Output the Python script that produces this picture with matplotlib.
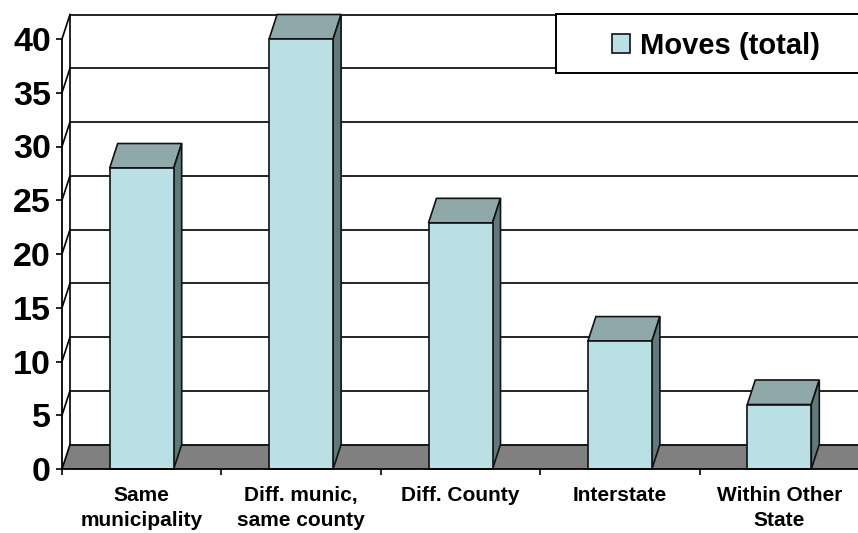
import numpy as np
import matplotlib
matplotlib.use("Agg")
import matplotlib.pyplot as plt
from matplotlib.patches import Polygon, Rectangle

categories = ["Same\nmunicipality", "Diff. munic,\nsame county", "Diff. County", "Interstate", "Within Other\nState"]
moves = [28.0, 40.0, 22.9, 11.9, 6.0]
y_ticks = [0, 5, 10, 15, 20, 25, 30, 35, 40]
series_name = "Moves (total)"

W, H = 858, 533
plt.rcParams['font.family'] = ['Liberation Sans', 'DejaVu Sans']

fig = plt.figure(figsize=(W / 100, H / 100), dpi=100)
# axes box in pixels: x 62..859, y 39..469 from the top
ax = fig.add_axes([62 / W, (H - 469) / H, 797 / W, 430 / H])
ax.set_xlim(0, 5)
ax.set_ylim(0, 40)

# fake 3d depth, in data units
dx = 8 / (797 / 5)
dy = 24.5 / (430 / 40)
bar_w = 64 / (797 / 5)
xmax = 5

# floor
ax.add_patch(Polygon([(0, 0), (dx, dy), (xmax, dy), (xmax, 0)], closed=True,
                     facecolor="#808080", edgecolor="none", zorder=1, clip_on=False))

# back wall grid and side wall diagonals
for t in y_ticks:
    ax.plot([dx, xmax], [t + dy, t + dy], color="black", lw=1.2, zorder=2, clip_on=False)
    ax.plot([0, dx], [t, t + dy], color="black", lw=1.2, zorder=2, clip_on=False)
ax.plot([dx, dx], [dy, 40 + dy], color="black", lw=1.2, zorder=2, clip_on=False)

# bars
for i, v in enumerate(moves):
    x0 = i + 0.5 - bar_w / 2
    x1 = x0 + bar_w
    ax.add_patch(Polygon([(x0, v), (x0 + dx, v + dy), (x1 + dx, v + dy), (x1, v)], closed=True,
                         facecolor="#8fa9ab", edgecolor="#111111", lw=1.2, zorder=3, clip_on=False))
    ax.add_patch(Polygon([(x1, 0), (x1 + dx, dy), (x1 + dx, v + dy), (x1, v)], closed=True,
                         facecolor="#5f7a7c", edgecolor="#111111", lw=1.2, zorder=3, clip_on=False))
bars = ax.bar(np.arange(5) + 0.5, moves, width=bar_w, color="#b9e0e4", edgecolor="#111111",
              lw=1.2, zorder=4, label=series_name, clip_on=False)

for s in ["top", "right"]:
    ax.spines[s].set_visible(False)
for s in ["left", "bottom"]:
    ax.spines[s].set_linewidth(1.3)
    ax.spines[s].set_zorder(5)

ax.set_yticks(y_ticks)
ax.set_yticklabels([str(t) for t in y_ticks], fontsize=24.5, fontweight="bold")
ax.tick_params(axis="y", length=4.5, width=1.2, pad=3.5)

# ticks sit between the categories, labels in the middle
ax.set_xticks(np.arange(6))
ax.set_xticklabels([])
ax.set_xticks(np.arange(5) + 0.5, minor=True)
ax.set_xticklabels(categories, minor=True, fontsize=15, fontweight="bold", linespacing=1.42, va="top")
ax.tick_params(axis="x", which="major", length=4.5, width=1.2)
ax.tick_params(axis="x", which="minor", length=0, pad=12)

# legend box runs off the right edge
box = Rectangle((556 / W, (H - 73) / H), 310 / W, 59 / H, transform=fig.transFigure,
                facecolor="white", edgecolor="black", lw=1.4, zorder=6, clip_on=False)
ax.add_patch(box)
leg = ax.legend(handles=[bars], frameon=False, loc="center", fontsize=21,
                bbox_to_anchor=(716 / W, (H - 45.5) / H), bbox_transform=fig.transFigure,
                handlelength=0.62, handleheight=0.62, handletextpad=0.34, borderpad=0)
leg.set_zorder(7)
for t in leg.get_texts():
    t.set_fontweight("bold")

fig.savefig("out.png", dpi=100)
